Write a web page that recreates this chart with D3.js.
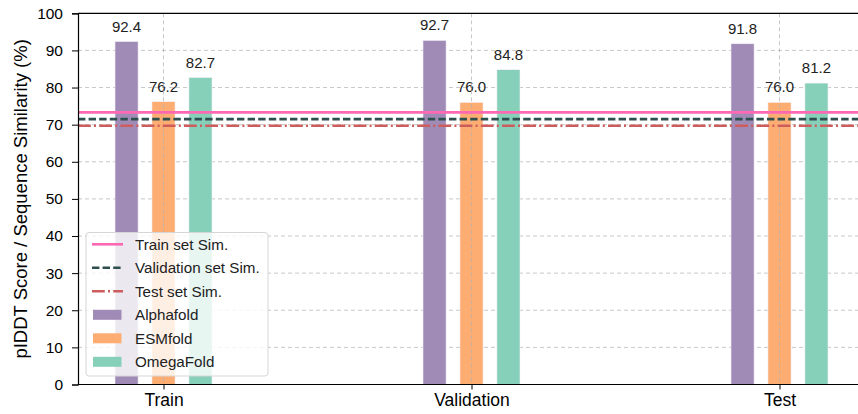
<!DOCTYPE html>
<html><head><meta charset="utf-8">
<script src="https://cdn.jsdelivr.net/npm/d3@7"></script>
<style>body{margin:0;background:#fff}svg{display:block;font-family:"Liberation Sans",Arial,sans-serif}</style>
</head><body><svg id="c" width="858" height="414"></svg>
<script>
const categories = ["Train", "Validation", "Test"];
const models = ["Alphafold", "ESMfold", "OmegaFold"];
const alphafold = [92.4, 92.7, 91.8];
const esmfold = [76.2, 76.0, 76.0];
const omegafold = [82.7, 84.8, 81.2];
const simNames = ["Train set Sim.", "Validation set Sim.", "Test set Sim."];
const simValues = [73.3, 71.5, 69.7];
const yTicks = [0,10,20,30,40,50,60,70,80,90,100];

const barColors = ["#a08bb6", "#fdad72", "#86cfb9"];
const simColors = ["#ff69b4", "#2f4f4f", "#cd5c5c"];
const simDash = [null, "7.4,3.2", "12.8,3.2,2,3.2"];
const series = [alphafold, esmfold, omegafold];

const svg = d3.select("#c");
const L = 78, R = 900, T = 13.3, B = 384.5;
const x = d3.scalePoint().domain(categories).range([163.5, 779.5]);
const step = x.step();
const y = d3.scaleLinear().domain([0, 100]).range([B, T]);
const bw = step * 0.075, off = step * 0.12;

// horizontal grid
svg.append("g").selectAll("line").data(yTicks.slice(1, -1)).join("line")
  .attr("x1", L).attr("x2", R).attr("y1", d => y(d)).attr("y2", d => y(d))
  .attr("stroke", "#c8c8c8").attr("stroke-width", 1).attr("stroke-dasharray", "4,3");

// bars
series.forEach((vals, si) => {
  svg.append("g").selectAll("rect").data(vals).join("rect")
    .attr("x", (d, i) => x(categories[i]) + (si - 1) * off - bw / 2)
    .attr("width", bw)
    .attr("y", d => y(d)).attr("height", d => B - y(d))
    .attr("fill", barColors[si]).attr("stroke", "#f4f0f6").attr("stroke-width", 0.6);
  svg.append("g").selectAll("text").data(vals).join("text")
    .attr("x", (d, i) => x(categories[i]) + (si - 1) * off)
    .attr("y", d => y(d) - 10)
    .attr("text-anchor", "middle").attr("font-size", 15).attr("fill", "#222")
    .text(d => d.toFixed(1));
});

// vertical grid (over bars, faint)
svg.append("g").selectAll("line").data(categories).join("line")
  .attr("x1", d => x(d)).attr("x2", d => x(d)).attr("y1", T).attr("y2", B)
  .attr("stroke", "#b0b0b0").attr("stroke-opacity", 0.7).attr("stroke-width", 1).attr("stroke-dasharray", "4,3");

// sim lines
simValues.forEach((v, i) => {
  const l = svg.append("line").attr("x1", L).attr("x2", R).attr("y1", y(v)).attr("y2", y(v))
    .attr("stroke", simColors[i]).attr("stroke-width", 2.6);
  if (simDash[i]) l.attr("stroke-dasharray", simDash[i]);
});

// axes
const yAxis = d3.axisLeft(y).tickValues(yTicks).tickSize(6).tickPadding(9);
const gy = svg.append("g").attr("transform", `translate(${L},0)`).call(yAxis);
gy.selectAll("text").attr("font-size", 15.5).attr("fill", "#000").attr("font-family", "Liberation Sans, Arial, sans-serif");
gy.select(".domain").attr("stroke", "#000").attr("stroke-width", 1.2);
gy.selectAll(".tick line").attr("stroke", "#000");

const xAxis = d3.axisBottom(x).tickSize(5).tickPadding(4);
const gx = svg.append("g").attr("transform", `translate(0,${B})`).call(xAxis);
gx.select(".domain").attr("d", `M${L},0H${R}`).attr("stroke", "#000").attr("stroke-width", 1.2);
gx.selectAll("text").attr("font-size", 17.5).attr("fill", "#000").attr("font-family", "Liberation Sans, Arial, sans-serif");
gx.selectAll(".tick line").attr("stroke", "#000");

// top spine
svg.append("line").attr("x1", L).attr("x2", R).attr("y1", T).attr("y2", T).attr("stroke", "#000").attr("stroke-width", 1.2);

// y label
svg.append("text").attr("transform", `translate(22,${(T + B) / 2}) rotate(-90)`)
  .attr("text-anchor", "middle").attr("dominant-baseline", "middle")
  .attr("font-size", 18.5).attr("fill", "#000").text("pIDDT Score / Sequence Similarity (%)");

// legend
const lg = svg.append("g");
lg.append("rect").attr("x", 86).attr("y", 232.5).attr("width", 182).attr("height", 143.5).attr("rx", 3)
  .attr("fill", "#fff").attr("fill-opacity", 0.8).attr("stroke", "#d6d6d6");
const rowY = i => 244.3 + i * 23.5;
simNames.forEach((n, i) => {
  const l = lg.append("line").attr("x1", 92).attr("x2", 123).attr("y1", rowY(i)).attr("y2", rowY(i))
    .attr("stroke", simColors[i]).attr("stroke-width", 2.6);
  if (simDash[i]) l.attr("stroke-dasharray", simDash[i]);
  lg.append("text").attr("x", 135).attr("y", rowY(i)).attr("dominant-baseline", "central")
    .attr("font-size", 15.2).attr("fill", "#222").text(n);
});
models.forEach((n, i) => {
  const yy = rowY(i + 3);
  lg.append("rect").attr("x", 93).attr("y", yy - 5).attr("width", 28.5).attr("height", 10).attr("fill", barColors[i]);
  lg.append("text").attr("x", 135).attr("y", yy).attr("dominant-baseline", "central")
    .attr("font-size", 15.2).attr("fill", "#222").text(n);
});
</script></body></html>
